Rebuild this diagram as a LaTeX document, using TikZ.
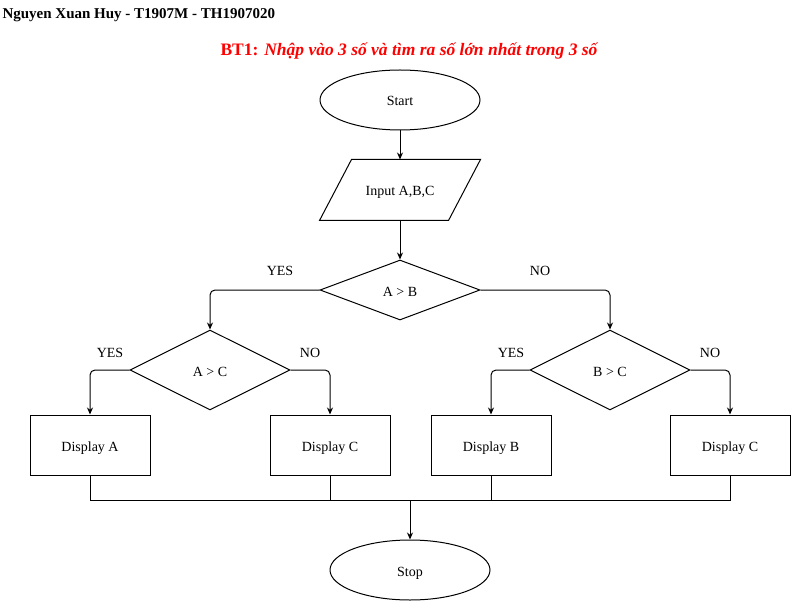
\documentclass[tikz,border=0pt]{standalone}
\usepackage{fontspec}
\setmainfont{Liberation Serif}
\usetikzlibrary{shapes.geometric,arrows.meta}
\begin{document}
\begin{tikzpicture}[x=1pt, y=-1pt, line width=1pt, >={Stealth[length=7pt,width=6pt]},
  every node/.style={font=\fontsize{14}{16}\selectfont, inner sep=0,
    text height=12pt, text depth=0pt},
  term/.style={draw, ellipse, minimum width=160, minimum height=60},
  io/.style={rectangle, minimum width=160, minimum height=60},
  test/.style={draw, diamond, minimum width=160, minimum height=80},
  box/.style={draw, rectangle, minimum width=120, minimum height=60},
  flow/.style={->, rounded corners=5pt}]
  \useasboundingbox (0,0) rectangle (791,601);
  % heading
  \node[anchor=west, font=\fontsize{15}{17}\selectfont\bfseries] (author) at (2,13)
    {Nguyen Xuan Huy - T1907M - TH1907020};
  \node[text=red, font=\fontsize{17.5}{19}\selectfont\bfseries] (title) at (409,50)
    {BT1: \itshape Nhập vào 3 số và tìm ra số lớn nhất trong 3 số};
  % flowchart
  \node[term] (start) at (400,100) {Start};
  \node[io] (input) at (400,190) {Input A,B,C};
  \draw (input.south west) -- ([xshift=32pt]input.north west) -- (input.north east)
    -- ([xshift=-32pt]input.south east) -- cycle;
  \node[test, minimum height=60] (ab) at (400,290) {A > B};
  \node[test] (ac) at (210,370) {A > C};
  \node[test] (bc) at (610,370) {B > C};
  \node[box] (dispA) at (90,445) {Display A};
  \node[box] (dispC1) at (330,445) {Display C};
  \node[box] (dispB) at (491,445) {Display B};
  \node[box] (dispC2) at (730,445) {Display C};
  \node[term] (stop) at (410,570) {Stop};
  \coordinate (join) at (410,500);
  % labels
  \node (yes1) at (280,270) {YES};
  \node (no1) at (540,270) {NO};
  \node (yes2) at (110,351) {YES};
  \node (no2) at (310,351) {NO};
  \node (yes3) at (511,351) {YES};
  \node (no3) at (710,351) {NO};
  % connectors
  \draw[->] (start) -- (input);
  \draw[->] (input) -- (ab);
  \draw[flow] (ab.west) -| (ac.north);
  \draw[flow] (ab.east) -| (bc.north);
  \draw[flow] (ac.west) -| (dispA.north);
  \draw[flow] (ac.east) -| (dispC1.north);
  \draw[flow] (bc.west) -| (dispB.north);
  \draw[flow] (bc.east) -| (dispC2.north);
  \draw (dispA.south) |- (join);
  \draw (dispC1.south) |- (join);
  \draw (dispB.south) |- (join);
  \draw (dispC2.south) |- (join);
  \draw[->] (join) -- (stop);
\end{tikzpicture}
\end{document}
